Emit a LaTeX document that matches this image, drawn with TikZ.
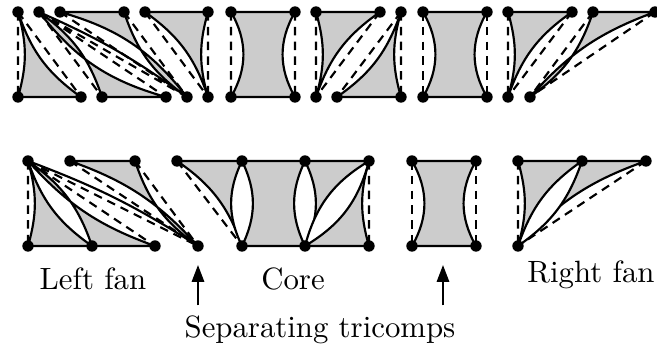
\documentclass[tikz,border=0pt]{standalone}
\usetikzlibrary{positioning,arrows.meta}
\tikzset{
  tricomp/.style={fill=black!20, draw=black, line width=0.7pt, line join=round},
  lens/.style={fill=white, draw=black, line width=0.7pt},
  real/.style={draw=black, line width=0.7pt},
  virtual/.style={draw=black, line width=0.7pt, dash pattern=on 2.8pt off 2pt},
  bow/.style={bend right=#1}, bow/.default=18,
  pointer/.style={line width=0.7pt, -{Triangle[length=5.5pt,width=4pt]}}
}

\begin{document}
\begin{tikzpicture}[x=0.3247pt, y=-0.3247pt, node distance=27.6pt]
    \useasboundingbox (0,0) rectangle (657,358);

    % upper row: every tricomp on its own
    \coordinate (a1) at (18,12);
    \coordinate (a2) at (39,12);
    \coordinate (a3) at (60,12);
    \coordinate (a4) at (124,12);
    \coordinate (a5) at (145,12);
    \coordinate (a6) at (208,12);
    \coordinate (a7) at (231,12);
    \coordinate (a8) at (295,12);
    \coordinate (a9) at (316,12);
    \coordinate (a10) at (380,12);
    \coordinate (a11) at (401,12);
    \coordinate (a12) at (423,12);
    \coordinate (a13) at (487,12);
    \coordinate (a14) at (508,12);
    \coordinate (a15) at (572,12);
    \coordinate (a16) at (593,12);
    \coordinate (a17) at (655,12);

    \coordinate[below=of a1] (b1);
    \coordinate (b2) at (81,97);
    \coordinate (b3) at (102,97);
    \coordinate (b4) at (166,97);
    \coordinate (b5) at (187,97);
    \coordinate[below=of a6] (b6);
    \coordinate[below=of a7] (b7);
    \coordinate[below=of a8] (b8);
    \coordinate[below=of a9] (b9);
    \coordinate (b10) at (337,97);
    \coordinate[below=of a11] (b11);
    \coordinate[below=of a12] (b12);
    \coordinate[below=of a13] (b13);
    \coordinate[below=of a14] (b14);
    \coordinate (b15) at (530,97);

    % lower row: fans, core and separating tricomps
    \coordinate (c1) at (28,161);
    \coordinate (c2) at (70,161);
    \coordinate (c3) at (135,161);
    \coordinate (c4) at (177,161);
    \coordinate (c5) at (242,161);
    \coordinate (c6) at (305,161);
    \coordinate (c7) at (369,161);
    \coordinate (c8) at (412,161);
    \coordinate (c9) at (476,161);
    \coordinate (c10) at (518,161);
    \coordinate (c11) at (582,161);
    \coordinate (c12) at (646,161);

    \coordinate[below=of c1] (d1);
    \coordinate (d2) at (92,246);
    \coordinate (d3) at (155,246);
    \coordinate (d4) at (198,246);
    \coordinate[below=of c5] (d5);
    \coordinate[below=of c6] (d6);
    \coordinate[below=of c7] (d7);
    \coordinate[below=of c8] (d8);
    \coordinate[below=of c9] (d9);
    \coordinate[below=of c10] (d10);

    % upper left fan
    \filldraw[tricomp] (a1) to[bow] (b2) -- (b1) to[bow=16] (a1);
    \filldraw[tricomp] (a2) to[bow] (b4) -- (b3) to[bow] (a2);
    \draw[real] (a2) to[bend left=6] (b5);
    \filldraw[tricomp] (a3) -- (a4) to[bow] (b5) to[bow] (a3);
    \filldraw[tricomp] (a5) -- (a6) to[bow=16] (b6) to[bow] (a5);
    \draw[virtual] (a1) -- (b1) (a1) -- (b2) (a2) -- (b3) (a2) -- (b4) (a2) -- (b5)
                   (a3) -- (b5) (a4) -- (b5) (a5) -- (b6) (a6) -- (b6);

    % upper core
    \filldraw[tricomp] (a7) -- (a8) to[bow=30] (b8) -- (b7) to[bow=30] (a7);
    \filldraw[tricomp] (a9) -- (a10) to[bow] (b9) to[bow=16] (a9);
    \filldraw[tricomp] (a11) to[bow=16] (b11) -- (b10) to[bow] (a11);
    \draw[virtual] (a7) -- (b7) (a8) -- (b8) (a9) -- (b9) (a10) -- (b9) (a11) -- (b10) (a11) -- (b11);

    % upper separating tricomp
    \filldraw[tricomp] (a12) -- (a13) to[bow=30] (b13) -- (b12) to[bow=30] (a12);
    \draw[virtual] (a12) -- (b12) (a13) -- (b13);

    % upper right fan
    \filldraw[tricomp] (a14) -- (a15) to[bow] (b14) to[bow=16] (a14);
    \filldraw[tricomp] (a16) -- (a17) to[bow=14] (b15) to[bow] (a16);
    \draw[virtual] (a14) -- (b14) (a15) -- (b14) (a16) -- (b15) (a17) -- (b15);

    % lower left fan
    \filldraw[tricomp] (c1) to[bow] (d2) -- (d1) to[bow=16] (c1);
    \filldraw[tricomp] (c1) to[bow=14] (d3) -- (d2) to[bow] (c1);
    \draw[real] (c1) to[bend left=6] (d4);
    \filldraw[tricomp] (c2) -- (c3) to[bow] (d4) to[bow=14] (c2);
    \draw[virtual] (c1) -- (d1) (c1) -- (d3) (c1) -- (d4) (c2) -- (d4) (c3) -- (d4);

    % lower core
    \filldraw[tricomp] (c4) -- (c7) to[bow=16] (d7) -- (d5) to[bow] (c4);
    \filldraw[lens] (c5) to[bow=26] (d5) to[bow=26] (c5);
    \filldraw[lens] (c6) to[bow=26] (d6) to[bow=26] (c6);
    \filldraw[lens] (c7) to[bow=22] (d6) to[bow=22] (c7);
    \draw[virtual] (c4) -- (d5) (c7) -- (d7);

    % lower separating tricomp
    \filldraw[tricomp] (c8) -- (c9) to[bow=30] (d9) -- (d8) to[bow=30] (c8);
    \draw[virtual] (c8) -- (d8) (c9) -- (d9);

    % lower right fan
    \filldraw[tricomp] (c10) -- (c12) to[bow=14] (d10) to[bow=16] (c10);
    \filldraw[lens] (c11) to[bow=18] (d10) to[bow=18] (c11);
    \draw[virtual] (c10) -- (d10) (c12) -- (d10);

    % vertices
    \foreach \i in {1,...,17} \fill (a\i) circle (1.85pt);
    \foreach \i in {1,...,15} \fill (b\i) circle (1.85pt);
    \foreach \i in {1,...,12} \fill (c\i) circle (1.85pt);
    \foreach \i in {1,...,10} \fill (d\i) circle (1.85pt);

    \node[anchor=base] (leftfan) at (93,290) {Left fan};
    \node[anchor=base] (core) at (293,290) {Core};
    \node[anchor=base] (rightfan) at (591,283) {Right fan};
    \node[anchor=base] (sep) at (320,338) {Separating tricomps};

    \coordinate (gap1) at (198,265);
    \coordinate (gap2) at (443,265);
    \draw[pointer] (sep.north -| gap1) -- (gap1);
    \draw[pointer] (sep.north -| gap2) -- (gap2);
  \end{tikzpicture}
\end{document}
